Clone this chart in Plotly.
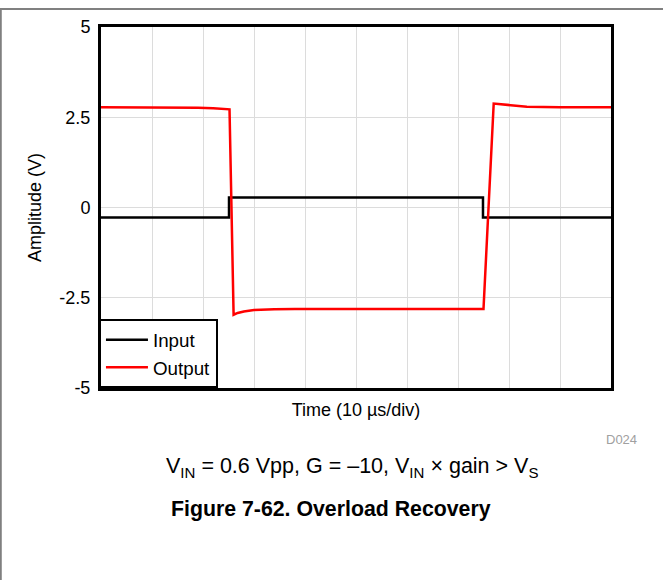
import plotly.graph_objects as go

# ---- data (time in µs, amplitude in V) ----
t_input = [0, 25.1, 25.1, 74.9, 74.9, 100]
v_input = [-0.28, -0.28, 0.28, 0.28, -0.28, -0.28]

t_output = [0, 12, 19, 22, 24.5, 25.2, 26.0, 26.8, 28, 30, 34, 38, 60, 75.0,
            77.0, 77.6, 78.2, 80, 83.5, 90, 100]
v_output = [2.78, 2.78, 2.76, 2.75, 2.74, 2.72, -2.97, -2.92, -2.88, -2.84, -2.82,
            -2.81, -2.81, -2.81, 2.88, 2.87, 2.86, 2.84, 2.79, 2.78, 2.78]

y_tickvals = [-5, -2.5, 0, 2.5, 5]
y_ticktext = ["-5", "-2.5", "0", "2.5", "5"]

FONT = "Arial, Liberation Sans, Helvetica, sans-serif"

fig = go.Figure()
fig.add_trace(go.Scatter(x=t_input, y=v_input, mode="lines", name="Input",
                         line=dict(color="black", width=2.5)))
fig.add_trace(go.Scatter(x=t_output, y=v_output, mode="lines", name="Output",
                         line=dict(color="#ff0000", width=2.5)))

fig.update_layout(
    width=663, height=580,
    margin=dict(l=101, r=52, t=27, b=192),
    paper_bgcolor="white", plot_bgcolor="white",
    font=dict(family=FONT, size=18, color="black"),
    showlegend=True,
    legend=dict(x=-0.004, y=0, xanchor="left", yanchor="bottom",
                bordercolor="black", borderwidth=2, bgcolor="white",
                font=dict(size=18.8), tracegroupgap=0, itemwidth=42),
    xaxis=dict(range=[0, 100], dtick=10, showticklabels=False,
               showgrid=True, gridcolor="#dcdcdc", gridwidth=1,
               showline=True, linecolor="black", linewidth=3, mirror=True,
               zeroline=False, fixedrange=True,
               title=dict(text="Time (10 µs/div)", font=dict(size=18), standoff=14)),
    yaxis=dict(range=[-5, 5], tickvals=y_tickvals, ticktext=y_ticktext,
               showgrid=True, gridcolor="#dcdcdc", gridwidth=1,
               showline=True, linecolor="black", linewidth=3, mirror=True,
               zeroline=False, fixedrange=True, ticks="", ticklabelstandoff=4,
               title=dict(text="Amplitude (V)", font=dict(size=18), standoff=14)),
    shapes=[
        dict(type="line", xref="paper", yref="paper", x0=-0.2, x1=1.11,
             y0=1.0499, y1=1.0499, line=dict(color="#808080", width=2)),
        dict(type="line", xref="paper", yref="paper", x0=-0.1965, x1=-0.1965,
             y0=1.0499, y1=-0.6, line=dict(color="#808080", width=2)),
    ],
    annotations=[
        dict(text="D024", xref="paper", yref="paper", x=1.0549, y=-0.1439,
             xanchor="right", yanchor="middle", showarrow=False,
             font=dict(size=13, color="#a0a0a0")),
        dict(text="V<sub>IN</sub> = 0.6 Vpp, G = –10, V<sub>IN</sub> × gain > V<sub>S</sub>",
             xref="paper", yref="paper", x=0.4922, y=-0.2216,
             xanchor="center", yanchor="middle", showarrow=False,
             font=dict(size=21.5)),
        dict(text="<b>Figure 7-62. Overload Recovery</b>",
             xref="paper", yref="paper", x=0.451, y=-0.3338,
             xanchor="center", yanchor="middle", showarrow=False,
             font=dict(size=21.3)),
    ],
)

fig.write_html("out.html",
               config={"displayModeBar": False},
               post_script="document.body.style.margin='0';document.body.style.padding='0';")
